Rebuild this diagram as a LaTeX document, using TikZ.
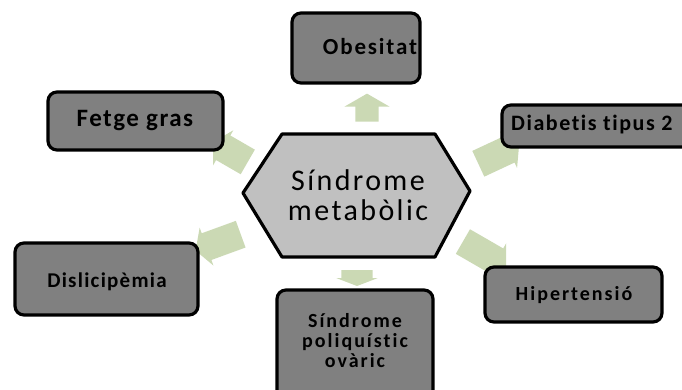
\documentclass[tikz,border=0pt]{standalone}
\usepackage{fontspec}
\setmainfont{Carlito}
\newfontfamily\boxfont[RawFeature=-liga]{Carlito}
\usetikzlibrary{shapes.arrows}
\definecolor{boxgray}{RGB}{128,128,128}
\definecolor{hexgray}{RGB}{192,192,192}
\definecolor{arrowgreen}{RGB}{203,217,180}
\tikzset{
  ibox/.style={draw=black, line width=3.2pt, fill=boxgray, rounded corners=9pt},
  ilabel/.style={text=black, inner sep=0pt, align=center},
  blockarrow/.style={single arrow, fill=arrowgreen, draw=none, inner xsep=0pt, inner ysep=14pt,
    single arrow head extend=6pt, single arrow tip angle=120, minimum height=40pt},
}
\newcommand{\bxf}[2]{\boxfont\bfseries\fontsize{#1}{#1}\selectfont\addfontfeature{LetterSpace=#2}}
\newcommand{\sopfont}{\boxfont\bfseries\fontsize{20}{20}\selectfont\addfontfeature{LetterSpace=10}}
\begin{document}
\begin{tikzpicture}[x=1pt,y=-1pt]
\useasboundingbox (0,0) rectangle (682,390);
\clip (0,0) rectangle (682,390);
% block arrows (under the shapes)
\node[blockarrow, rotate=90, minimum height=28pt, inner ysep=11.5pt, single arrow head extend=11pt] (a1) at (367,111) {};
\node[blockarrow, rotate=25, minimum height=45pt] (a2) at (495,156) {};
\node[blockarrow, rotate=150, minimum height=40pt] (a3) at (234,154) {};
\node[blockarrow, rotate=200, minimum height=48pt] (a4) at (222,241) {};
\node[blockarrow, rotate=270, minimum height=16pt, inner ysep=15.5pt, single arrow head extend=5pt, single arrow tip angle=138] (a5) at (357,275) {};
\node[blockarrow, rotate=-30, minimum height=50pt] (a6) at (481,252) {};
% central hexagon
\draw[line width=3.2pt, fill=hexgray, line join=round]
  (243,193) -- (282,134) -- (435,134) -- (470,191) -- (435,257) -- (282,257) -- cycle;
\node[ilabel, font=\boxfont\fontsize{30}{30}\selectfont\addfontfeature{LetterSpace=8}] (hex) at (358,195) {Síndrome\\metabòlic};
% boxes
\draw[ibox] (292,13) rectangle (420,83);
\node[ilabel, anchor=base, font=\bxf{23}{8}] (obes) at (370,55) {Obesitat};
\draw[ibox] (502,105) rectangle (720,147);
\node[ilabel, anchor=base west, font=\bxf{22}{7}] (diab) at (511,131) {Diabetis tipus 2};
\draw[ibox] (48,92) rectangle (223,150);
\node[ilabel, anchor=base, font=\bxf{25}{6}] (fetge) at (135,127) {Fetge gras};
\draw[ibox] (15,243) rectangle (198,315);
\node[ilabel, anchor=base, font=\bxf{21}{6}] (disl) at (107,287) {Dislicipèmia};
\draw[ibox] (277,290) rectangle (433,410);
\node[ilabel, font=\sopfont] (sop) at (355,341) {Síndrome\\poliquístic\\ovàric};
\draw[ibox] (485,267) rectangle (662,322);
\node[ilabel, anchor=base, font=\bxf{20}{10}] (hip) at (574,300) {Hipertensió};
\end{tikzpicture}
\end{document}
